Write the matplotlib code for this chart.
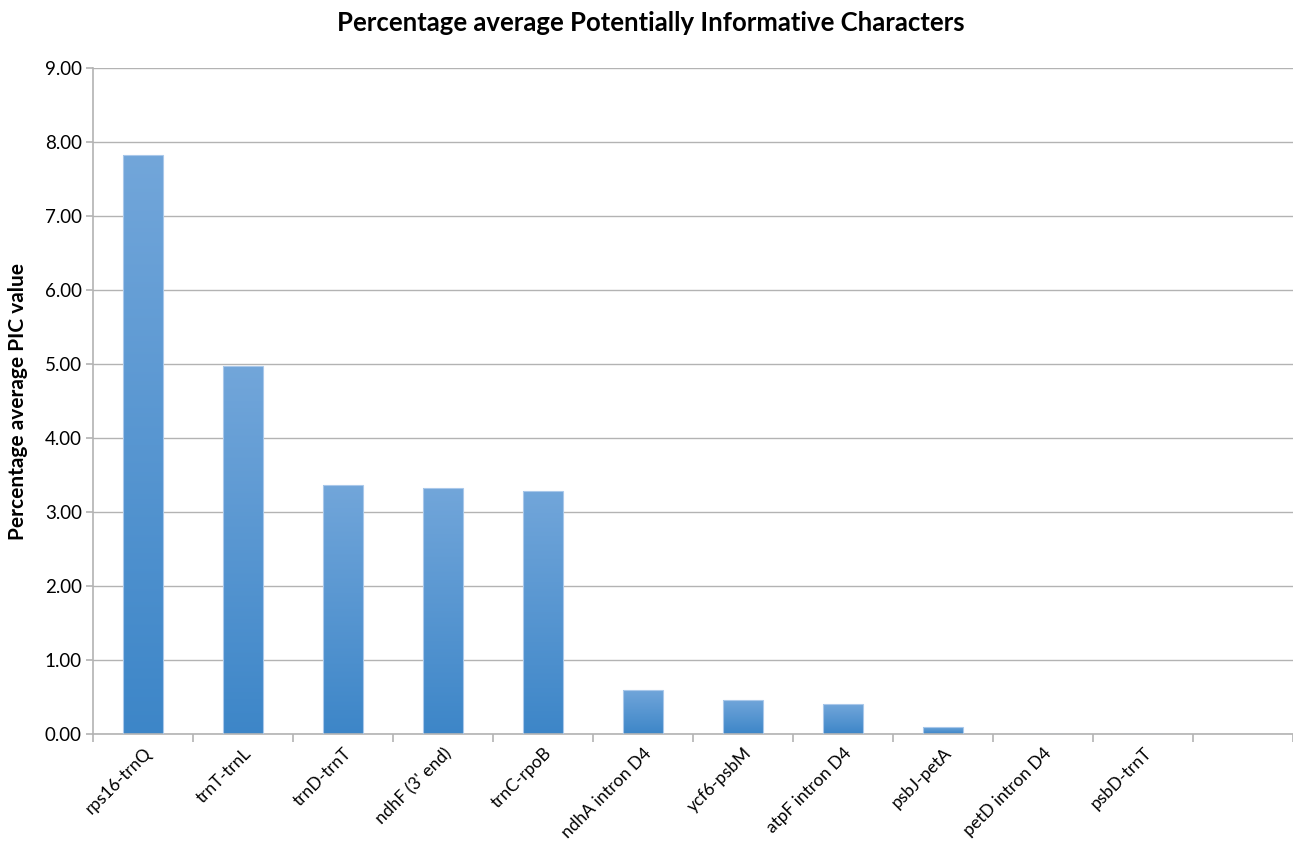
import matplotlib
matplotlib.use("Agg")
import matplotlib.pyplot as plt
import numpy as np
from matplotlib.colors import LinearSegmentedColormap

# values
regions = ['rps16-trnQ', 'trnT-trnL', 'trnD-trnT', "ndhF (3' end)", 'trnC-rpoB',
           'ndhA intron D4', 'ycf6-psbM', 'atpF intron D4', 'psbJ-petA',
           'petD intron D4', 'psbD-trnT']
pic_values = [7.82, 4.97, 3.37, 3.33, 3.29, 0.60, 0.46, 0.40, 0.10, 0.0, 0.0]
n_slots = 12  # the axis has one empty slot at the end

plt.rcParams['font.family'] = ['Lato', 'DejaVu Sans']

fig = plt.figure(figsize=(12.93, 8.42), dpi=100)
ax = fig.add_axes([93 / 1293, 1 - 734 / 842, 1200 / 1293, 666 / 842])

x = np.arange(len(regions))
bars = ax.bar(x, pic_values, width=0.4, color='none', edgecolor='#a9c8ea',
              linewidth=0.8, zorder=3)

# vertical gradient inside each bar
cmap = LinearSegmentedColormap.from_list('bar', ['#3d86c8', '#72a6da'])
grad = np.linspace(0, 1, 256).reshape(-1, 1)
for b in bars:
    h = b.get_height()
    if h <= 0:
        continue
    x0 = b.get_x()
    im = ax.imshow(grad, cmap=cmap, origin='lower', aspect='auto',
                   extent=[x0, x0 + b.get_width(), 0, h], zorder=2)
    im.set_clip_path(b)

ax.set_xlim(-0.5, n_slots - 0.5)
ax.set_ylim(0, 9)
ax.set_yticks(np.arange(0, 10, 1))
ax.set_yticklabels([f'{v:.2f}' for v in np.arange(0, 10, 1)], fontsize=13.5)
ax.grid(axis='y', color='#b3b3b3', linewidth=1.0, zorder=0)

ax.set_xticks(np.arange(-0.5, n_slots, 1), minor=False)
ax.set_xticklabels([])
ax.set_xticks(x, minor=True)
ax.set_xticklabels(regions, minor=True, rotation=45, ha='right', va='top',
                   rotation_mode='anchor', fontsize=12.5)
ax.tick_params(axis='x', which='minor', length=0, pad=8)
ax.tick_params(axis='x', which='major', length=6, color='#b3b3b3', width=1.2)
ax.tick_params(axis='y', length=5, color='#b3b3b3', width=1.2, pad=3)

for s in ['top', 'right']:
    ax.spines[s].set_visible(False)
for s in ['left', 'bottom']:
    ax.spines[s].set_color('#b3b3b3')
    ax.spines[s].set_linewidth(1.2)

ax.set_ylabel('Percentage average PIC value', fontsize=15, fontweight='bold',
              labelpad=12)
fig.text(651 / 1293, 1 - 23 / 842, 'Percentage average Potentially Informative Characters',
         ha='center', va='center', fontsize=18.5, fontweight='bold')

fig.savefig('out.png', dpi=100)
